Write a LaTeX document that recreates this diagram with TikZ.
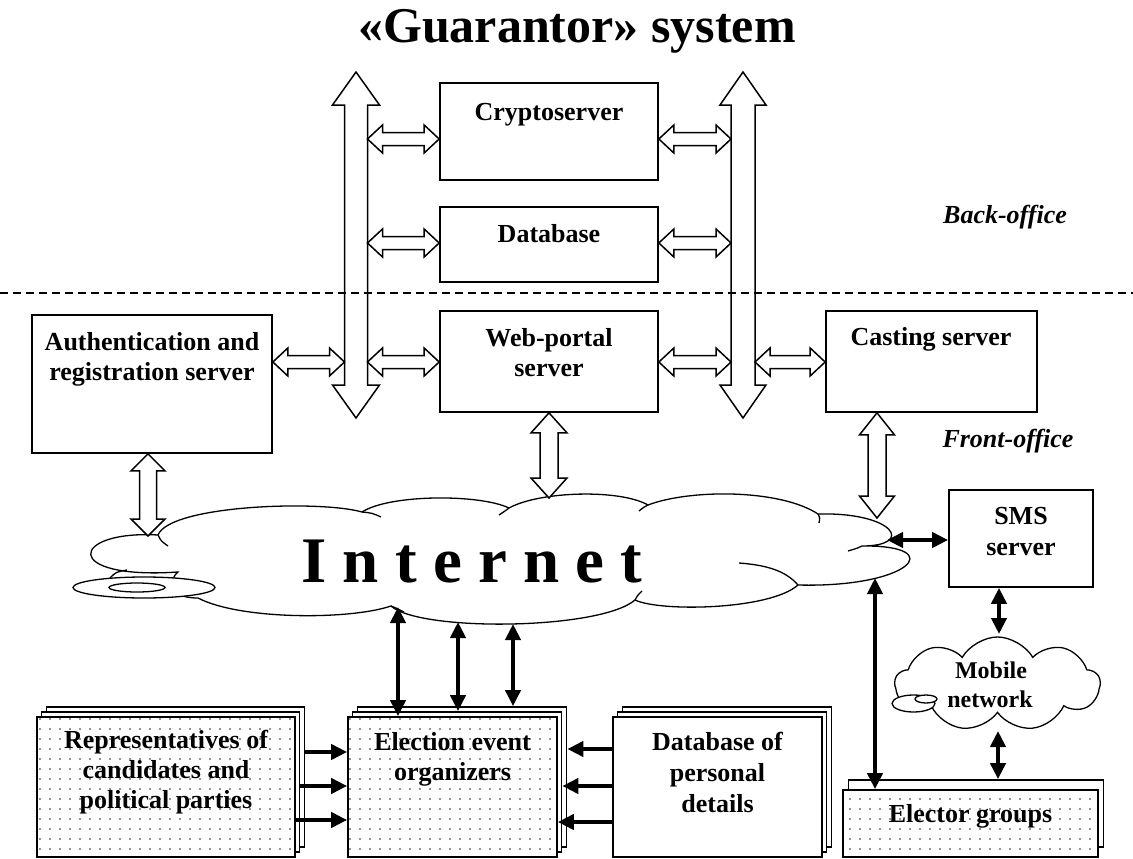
\documentclass[tikz,border=0pt]{standalone}
\usepackage{fontspec}
\setmainfont{Liberation Serif}
\usetikzlibrary{calc,shapes.symbols,patterns.meta,arrows.meta}
\newcommand\hollowH[2]{\draw[hollow] let \p1=(#1), \p2=(#2) in
 (\x1,\y1) -- (\x1+15pt,\y1+14pt) -- (\x1+15pt,\y1+6.5pt) -- (\x2-15pt,\y1+6.5pt) -- (\x2-15pt,\y1+14pt) -- (\x2,\y1) -- (\x2-15pt,\y1-14pt) -- (\x2-15pt,\y1-6.5pt) -- (\x1+15pt,\y1-6.5pt) -- (\x1+15pt,\y1-14pt) -- cycle;}
\newcommand\hollowV[5]{\draw[hollow] let \p1=(#4), \p2=(#5) in
 (\x1,\y1) -- (\x1+#2pt,\y1-#1pt) -- (\x1+#3pt,\y1-#1pt) -- (\x1+#3pt,\y2+#1pt) -- (\x1+#2pt,\y2+#1pt) -- (\x1,\y2) -- (\x1-#2pt,\y2+#1pt) -- (\x1-#3pt,\y2+#1pt) -- (\x1-#3pt,\y1-#1pt) -- (\x1-#2pt,\y1-#1pt) -- cycle;}
\begin{document}
\begin{tikzpicture}[x=1pt,y=-1pt,
  boxplain/.style={draw, line width=1.7pt, inner sep=0pt},
  box/.style={boxplain, fill=white},
  dotted/.style={boxplain, preaction={fill=white}, pattern={Dots[distance=10pt,radius=0.85pt]}, pattern color=black!85},
  hollow/.style={draw, line width=1.5pt, fill=white, line join=miter},
  lbl/.style={font=\fontsize{26}{30}\selectfont\bfseries, inner sep=0pt, anchor=base},
  ital/.style={font=\fontsize{26}{30}\selectfont\bfseries\itshape, inner sep=0pt, anchor=base},
  blk/.style={line width=4pt, -{Triangle[length=16pt,width=15pt]}},
  blk2/.style={line width=4pt, {Triangle[length=16pt,width=15pt]}-{Triangle[length=16pt,width=15pt]}},
  cloudline/.style={line width=1.3pt}]
\useasboundingbox (0,0) rectangle (1133,859);

% title
\node[font=\fontsize{50}{54}\selectfont\bfseries, inner sep=0pt, anchor=base] (title) at (577,43) {«Guarantor» system};

% bus arrows
\coordinate (lbusT) at (356,72);
\coordinate (lbusB) at (356,418);
\coordinate (rbusT) at (743,72);
\coordinate (rbusB) at (743,418);
\hollowV{33}{23.5}{11.5}{lbusT}{lbusB}
\hollowV{33}{23}{12}{rbusT}{rbusB}

% back-office boxes
\node[box, minimum width=218, minimum height=97] (crypto) at (549,131.5) {};
\node[box, minimum width=218, minimum height=75] (db) at (549,244.5) {};
\node[lbl] at (549,120) {Cryptoserver};
\node[lbl] at (549,242) {Database};

% front-office boxes
\node[box, minimum width=218, minimum height=101] (web) at (549,361.5) {};
\node[box, minimum width=240, minimum height=138] (auth) at (152,384) {};
\node[box, minimum width=211, minimum height=101] (cast) at (931.5,361.5) {};
\node[lbl] at (549,346) {Web-portal};
\node[lbl] at (549,376) {server};
\node[lbl] at (152,350) {Authentication and};
\node[lbl] at (152,380) {registration server};
\node[lbl] at (931,345) {Casting server};

% horizontal hollow arrows
\hollowH{$(lbusT |- crypto.west)+(11.5,7.5)$}{$(crypto.west)+(0,7.5)$}
\hollowH{$(crypto.east)+(0,7.5)$}{$(rbusT |- crypto.east)+(-12,7.5)$}
\hollowH{$(lbusT |- db.west)+(11.5,-1.5)$}{$(db.west)+(0,-1.5)$}
\hollowH{$(db.east)+(0,-1.5)$}{$(rbusT |- db.east)+(-12,-1.5)$}
\hollowH{$(auth.east |- web.west)+(0,0.5)$}{$(lbusT |- web.west)+(-11.5,0.5)$}
\hollowH{$(lbusT |- web.west)+(11.5,0.5)$}{$(web.west)+(0,0.5)$}
\hollowH{$(web.east)+(0,0.5)$}{$(rbusT |- web.east)+(-12,0.5)$}
\hollowH{$(rbusT |- web.east)+(12,0.5)$}{$(cast.west)+(0,0.5)$}

% labels
\node[ital] (back) at (1005,223) {Back-office};
\node[ital] (front) at (1008,447) {Front-office};

% dashed separator
\draw[line width=1.3pt, dash pattern=on 8pt off 5pt] (0,293) -- (1133,293);

% Internet cloud
\path[fill=white, draw, cloudline] (178,572)
 .. controls (60,580) and (70,530) .. (158,535)
 .. controls (170,505) and (320,500) .. (362,512)
 .. controls (390,494) and (480,494) .. (509,508)
 .. controls (540,491) and (620,489) .. (648,505)
 .. controls (690,489) and (780,489) .. (818,514)
 .. controls (895,512) and (915,546) .. (862,546)
 .. controls (950,545) and (910,588) .. (798,585)
 .. controls (770,610) and (660,612) .. (635,600)
 .. controls (600,630) and (420,632) .. (391,606)
 .. controls (350,620) and (240,620) .. (198,598)
 .. controls (165,598) and (170,578) .. cycle;
\draw[cloudline] (158,535) .. controls (161,541) .. (168,546);
\draw[cloudline] (362,512) .. controls (372,513) .. (381,517);
\draw[cloudline] (509,508) .. controls (505,511) .. (499,515);
\draw[cloudline] (648,505) .. controls (644,507) .. (639,511);
\draw[cloudline] (818,514) .. controls (820,518) .. (819,523);
\draw[cloudline] (862,546) .. controls (858,548) .. (848,551);
\draw[cloudline] (798,585) .. controls (785,570) and (765,565) .. (739,563);
\draw[cloudline] (635,600) .. controls (637,596) .. (642,591);
\draw[cloudline] (391,606) .. controls (396,608) .. (404,612);
\draw[cloudline, fill=white] (144,587.5) ellipse [x radius=71, y radius=10.5];
\draw[cloudline] (137,587.5) ellipse [x radius=28, y radius=4.5];
\draw[cloudline] (110,578) .. controls (116,572) .. (127,570);
\node[font=\fontsize{65}{70}\selectfont\bfseries, inner sep=0pt, anchor=base] (inet) at (472,582) {I n t e r n e t};

\coordinate (inetAuth) at (148,536);
\coordinate (inetWeb) at (548,498);
\coordinate (inetCast) at (877,518);
\coordinate (inetSMS) at (887,540);
\coordinate (inetE1) at (398,607);
\coordinate (inetE2) at (458,622);
\coordinate (inetE3) at (513,624);
\coordinate (inetVote) at (875,578);

% vertical hollow arrows
\hollowV{17}{17}{8.5}{$(auth.south)+(-4,0)$}{inetAuth}
\hollowV{20}{18}{9}{web.south}{inetWeb}
\hollowV{22}{17.5}{9}{$(cast.south)+(-54.5,0)$}{inetCast}

% SMS server
\node[box, minimum width=144, minimum height=97] (sms) at (1021,538.5) {};
\node[lbl] at (1021,524) {SMS};
\node[lbl] at (1021,555) {server};

% Mobile network cloud
\node[cloud, draw, cloudline, fill=white, cloud puffs=9, cloud puff arc=120, aspect=2.2, minimum width=205, minimum height=94, inner sep=0pt] (mob) at (997.5,684) {};
\draw[cloudline, fill=white] (913.5,703.5) ellipse [x radius=21.5, y radius=8.5];
\draw[cloudline, fill=white] (926,699) ellipse [x radius=11, y radius=4];
\node[lbl, font=\fontsize{24}{28}\selectfont\bfseries] at (991,678) {Mobile};
\node[lbl, font=\fontsize{24}{28}\selectfont\bfseries] at (990,707) {network};
\coordinate (mobN) at (999,634);
\coordinate (mobS) at (998,731);

% bottom stacked boxes
\node[box, minimum width=258, minimum height=140] (repr3) at (175.5,777) {};
\node[box, minimum width=258, minimum height=140] (repr2) at (170.5,782) {};
\node[dotted, minimum width=258, minimum height=140] (repr) at (166,787) {};
\node[lbl] at (166,748) {Representatives of};
\node[lbl] at (166,778) {candidates and};
\node[lbl] at (166,808) {political parties};

\node[box, minimum width=209, minimum height=140] (elect3) at (462,777) {};
\node[box, minimum width=209, minimum height=140] (elect2) at (457,782) {};
\node[dotted, minimum width=209, minimum height=140] (elect) at (452.5,787) {};
\node[lbl] at (452.5,750) {Election event};
\node[lbl] at (452.5,780) {organizers};

\node[box, minimum width=209, minimum height=140] (pers3) at (727,777) {};
\node[box, minimum width=209, minimum height=140] (pers2) at (722,782) {};
\node[box, minimum width=209, minimum height=140] (pers) at (717.5,787) {};
\node[lbl] at (717.5,750) {Database of};
\node[lbl] at (717.5,781) {personal};
\node[lbl] at (717.5,812) {details};

\node[box, minimum width=255, minimum height=67] (elector2) at (976,813.5) {};
\node[dotted, minimum width=255, minimum height=67] (elector) at (970.5,823.5) {};
\node[lbl] at (970.5,822) {Elector groups};

% black arrows
\draw[blk] ($(repr3.east)+(0,-25)$) -- ($(elect.west)+(0,-35)$);
\draw[blk] ($(repr2.east)+(0,4)$) -- ($(elect.west)+(0,-1)$);
\draw[blk] ($(repr.east)+(0,33)$) -- ($(elect.west)+(0,33)$);
\draw[blk] ($(pers.west)+(0,-38)$) -- ($(elect3.east)+(0,-28)$);
\draw[blk] ($(pers.west)+(0,-1)$) -- ($(elect2.east)+(0,4)$);
\draw[blk] ($(pers.west)+(0,35)$) -- ($(elect.east)+(0,35)$);
\draw[blk2] (inetE1) -- ($(elect.north)+(-54.5,0)$);
\draw[blk2] (inetE2) -- ($(elect2.north)+(1,0)$);
\draw[blk2] (inetE3) -- ($(elect3.north)+(51,0)$);
\draw[blk2] (inetVote) -- ($(elector.north)+(-95.5,0)$);
\draw[blk2] (inetSMS) -- ($(sms.west)+(0,1.5)$);
\draw[blk2] ($(sms.south)+(-22,0)$) -- (mobN);
\draw[blk2] (mobS) -- ($(elector2.north)+(22,0)$);
\end{tikzpicture}
\end{document}
